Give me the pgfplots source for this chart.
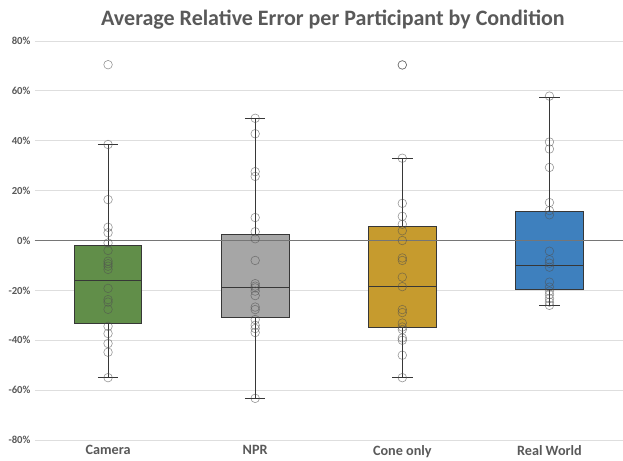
\documentclass[border=0pt]{standalone}
\usepackage{fontspec}
\setmainfont{Carlito}
\usepackage{pgfplots}
\pgfplotsset{compat=1.18}
\definecolor{camg}{RGB}{97,142,73}
\definecolor{nprg}{RGB}{166,166,166}
\definecolor{coneg}{RGB}{198,155,46}
\definecolor{realb}{RGB}{62,128,190}
\definecolor{gridc}{RGB}{222,222,222}
\definecolor{labc}{RGB}{89,89,89}
\definecolor{edgec}{RGB}{55,55,55}
\definecolor{zeroc}{RGB}{118,118,118}
\definecolor{markc}{RGB}{80,80,80}
\begin{document}
\begin{tikzpicture}
\useasboundingbox (0pt,0pt) rectangle (623pt,460pt);
\node[font=\fontsize{22}{26}\selectfont\bfseries, text=labc, anchor=base, inner sep=0pt] at (333pt,434pt) {Average Relative Error per Participant by Condition};
\begin{axis}[
  at={(34.5pt,20pt)}, anchor=south west,
  scale only axis, width=588.5pt, height=399pt,
  xmin=-0.5, xmax=3.5, ymin=-80, ymax=80,
  axis line style={draw=none},
  major tick length=0pt,
  ytick={-80,-60,...,80},
  ymajorgrids, grid style={color=gridc, line width=0.8pt},
  xtick={0,1,2,3},
  xticklabels={Camera,NPR,Cone only,Real World},
  yticklabel={\pgfmathprintnumber[assume math mode=true]{\tick}\%},
  yticklabel style={font=\fontsize{10.7}{12}\selectfont\bfseries, text=labc, xshift=-0.5pt},
  xticklabel style={font=\fontsize{14.2}{16}\selectfont\bfseries, text=labc, yshift=-2pt},
  clip=false,
  every axis plot/.append style={line join=miter},
]
% whiskers
\addplot[edgec, line width=0.9pt] coordinates {(0,-55) (0,38.5)};
\addplot[edgec, line width=0.9pt] coordinates {(-0.07,-55) (0.07,-55)};
\addplot[edgec, line width=0.9pt] coordinates {(-0.07,38.5) (0.07,38.5)};
\addplot[edgec, line width=0.9pt] coordinates {(1,-63.3) (1,49)};
\addplot[edgec, line width=0.9pt] coordinates {(0.93,-63.3) (1.07,-63.3)};
\addplot[edgec, line width=0.9pt] coordinates {(0.93,49) (1.07,49)};
\addplot[edgec, line width=0.9pt] coordinates {(2,-55) (2,33)};
\addplot[edgec, line width=0.9pt] coordinates {(1.93,-55) (2.07,-55)};
\addplot[edgec, line width=0.9pt] coordinates {(1.93,33) (2.07,33)};
\addplot[edgec, line width=0.9pt] coordinates {(3,-26) (3,57.5)};
\addplot[edgec, line width=0.9pt] coordinates {(2.93,-26) (3.07,-26)};
\addplot[edgec, line width=0.9pt] coordinates {(2.93,57.5) (3.07,57.5)};
% boxes
\addplot[fill=camg, draw=edgec, line width=1pt] coordinates {(-0.23,-33.1) (0.23,-33.1) (0.23,-2.1) (-0.23,-2.1) (-0.23,-33.1)};
\addplot[fill=nprg, draw=edgec, line width=1pt] coordinates {(0.77,-30.8) (1.23,-30.8) (1.23,2.4) (0.77,2.4) (0.77,-30.8)};
\addplot[fill=coneg, draw=edgec, line width=1pt] coordinates {(1.77,-34.9) (2.23,-34.9) (2.23,5.5) (1.77,5.5) (1.77,-34.9)};
\addplot[fill=realb, draw=edgec, line width=1pt] coordinates {(2.77,-19.7) (3.23,-19.7) (3.23,11.6) (2.77,11.6) (2.77,-19.7)};
% medians
\addplot[edgec, line width=0.9pt] coordinates {(-0.23,-16) (0.23,-16)};
\addplot[edgec, line width=0.9pt] coordinates {(0.77,-19) (1.23,-19)};
\addplot[edgec, line width=0.9pt] coordinates {(1.77,-18.5) (2.23,-18.5)};
\addplot[edgec, line width=0.9pt] coordinates {(2.77,-10) (3.23,-10)};
% zero line
\addplot[zeroc, line width=1.8pt] coordinates {(-0.5,0) (3.5,0)};
% participants
\addplot[only marks, mark=o, mark size=4.3pt, mark options={draw=markc, line width=0.6pt, opacity=0.6}] coordinates {
(0,70.5) (0,38.5) (0,16.4) (0,5.3) (0,3.1) (0,-1) (0,-4) (0,-8.3) (0,-9.3) (0,-10.3) (0,-11.6) (0,-19.2) (0,-23.7) (0,-24.7) (0,-27.6) (0,-34.4) (0,-37.3) (0,-41.3) (0,-44.8) (0,-55)
(1,49) (1,42.8) (1,27.6) (1,25.7) (1,9.2) (1,3.5) (1,0.7) (1,-8) (1,-17.3) (1,-18.3) (1,-19) (1,-20.3) (1,-22.1) (1,-26.7) (1,-27.7) (1,-31.7) (1,-34) (1,-35.3) (1,-36.9) (1,-63.3)
(2,70.4) (2,70.4) (2,33) (2,14.9) (2,9.7) (2,6.5) (2,3.9) (2,0) (2,-7) (2,-8) (2,-14.7) (2,-18.5) (2,-27.7) (2,-28.9) (2,-33.1) (2,-34.7) (2,-35.7) (2,-39.1) (2,-40) (2,-46) (2,-55)
(3,57.9) (3,39.5) (3,36.7) (3,29.3) (3,15.2) (3,12) (3,10.3) (3,-4.3) (3,-7.7) (3,-9.1) (3,-10.7) (3,-16.7) (3,-18.7) (3,-20.3) (3,-21.7) (3,-23.3) (3,-24.7) (3,-26)
};
\end{axis}
\end{tikzpicture}
\end{document}
